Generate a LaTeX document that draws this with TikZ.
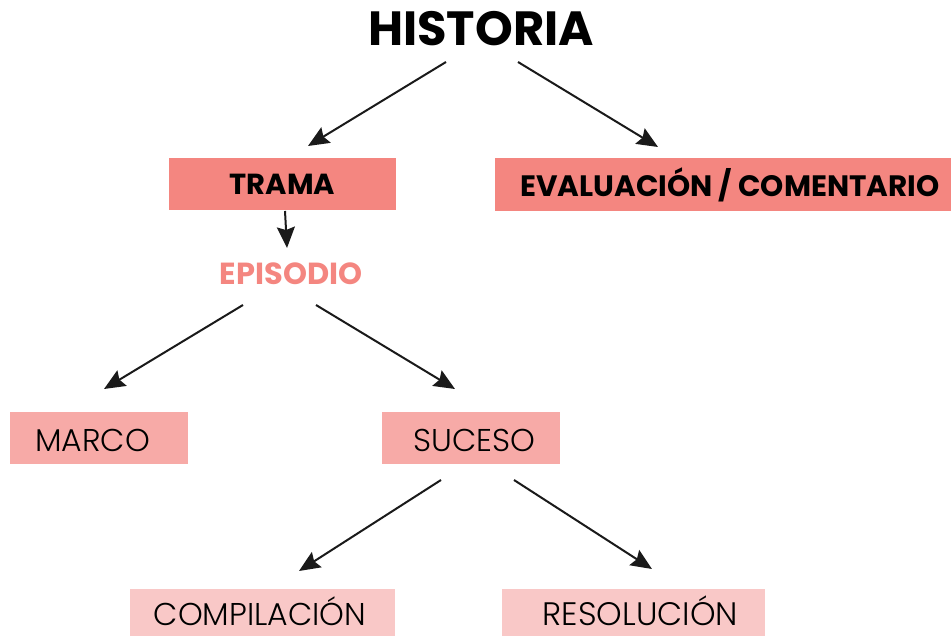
\documentclass[tikz,border=0pt]{standalone}
\usepackage{fontspec}
\setmainfont{Poppins}
\newfontfamily\lightfont{Poppins Light}
\usetikzlibrary{arrows.meta}
\definecolor{c1}{HTML}{F48680}
\definecolor{c2}{HTML}{F7AAA7}
\definecolor{c3}{HTML}{F9C8C7}
\definecolor{ink}{HTML}{1A1A1A}
\tikzset{
  arr/.style={draw=ink, line width=2pt, -{Stealth[length=21pt,width=18pt,inset=3pt]}},
  box/.style={rectangle, inner sep=0pt, anchor=center},
  boldlbl/.style={font=\fontsize{29}{34}\selectfont\bfseries, text=black},
  lightlbl/.style={font=\fontsize{31.5}{36}\selectfont\lightfont, text=black, text height=26pt, text depth=0pt},
}
\begin{document}
\begin{tikzpicture}[x=1pt,y=-1pt]
\useasboundingbox (0,0) rectangle (951,636);
\node[box, font=\fontsize{48}{56}\selectfont\bfseries] (historia) at (481,29) {HISTORIA};
\node[box, fill=c1, minimum width=227pt, minimum height=52pt, boldlbl] (trama) at (282.5,184) {TRAMA};
\node[box, fill=c1, minimum width=456pt, minimum height=53pt, boldlbl, font=\fontsize{29.5}{34}\selectfont\bfseries] (eval) at (723,184.5) {\hspace*{14pt}EVALUACIÓN / COMENTARIO};
\node[box, boldlbl, text=c1, font=\fontsize{30.5}{34}\selectfont\bfseries] (episodio) at (291,274) {EPISODIO};
\node[box, fill=c2, minimum width=178pt, minimum height=52pt, lightlbl] (marco) at (99,438) {\hspace*{-13pt}MARCO};
\node[box, fill=c2, minimum width=178pt, minimum height=52pt, lightlbl] (suceso) at (471,438) {\hspace*{7pt}SUCESO};
\node[box, fill=c3, minimum width=265pt, minimum height=47pt, lightlbl] (compil) at (262.5,612.5) {\hspace*{-5pt}COMPILACIÓN};
\node[box, fill=c3, minimum width=263pt, minimum height=47pt, lightlbl, font=\fontsize{32.5}{36}\selectfont\lightfont] (resol) at (633.5,612.5) {\hspace*{14pt}RESOLUCIÓN};
\coordinate (h1) at (446,62);
\coordinate (h2) at (518,62);
\coordinate (t1) at (308,146);
\coordinate (e1) at (658,147);
\coordinate (tr) at (285,211);
\coordinate (ep) at (287,248);
\coordinate (p1) at (243,305);
\coordinate (p2) at (316,305);
\coordinate (m1) at (104,389);
\coordinate (s1) at (455,389);
\coordinate (s2) at (441,480);
\coordinate (s3) at (514,480);
\coordinate (c1e) at (299,571);
\coordinate (r1e) at (652,569);
\draw[arr] (h1) -- (t1);
\draw[arr] (h2) -- (e1);
\draw[arr] (tr) -- (ep);
\draw[arr] (p1) -- (m1);
\draw[arr] (p2) -- (s1);
\draw[arr] (s2) -- (c1e);
\draw[arr] (s3) -- (r1e);
\end{tikzpicture}
\end{document}
